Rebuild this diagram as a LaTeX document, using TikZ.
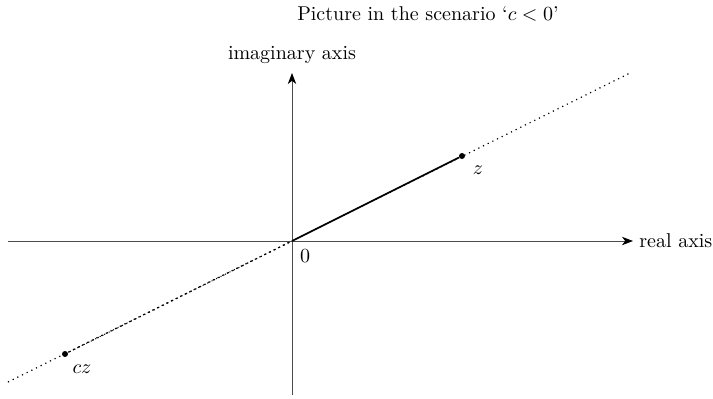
\documentclass[tikz,border=0pt]{standalone}
\usetikzlibrary{arrows.meta}
\begin{document}
\begin{tikzpicture}[x=0.5pt,y=-0.5pt,
  axis/.style={line width=0.45pt,black!70,-{Stealth[length=5.5pt,width=4.2pt,inset=1.6pt,black]}},
  pt/.style={circle,fill=black,inner sep=0pt,minimum size=3pt},
  lbl/.style={inner sep=1pt,font=\normalsize}]
\useasboundingbox (0,0) rectangle (713,398);
% coordinates
\coordinate (O) at (292,241);
\coordinate (xl) at (8,241);
\coordinate (xr) at (633,241);
\coordinate (yb) at (292,395);
\coordinate (yt) at (292,73);
\coordinate (lo) at (8,382);
\coordinate (hi) at (632,72);
\node[pt] (z) at (462,156) {};
\node[pt] (cz) at (65,354) {};
% axes
\draw[axis] (xl) -- (xr);
\draw[axis] (yb) -- (yt);
\node[lbl,anchor=west] (rl) at (637,241) {real axis};
\node[lbl] (il) at (292,55) {imaginary axis};
\node[lbl] (title) at (428,14) {Picture in the scenario `$c<0$'};
% line through z
\draw[dotted,line width=0.6pt] (lo) -- (hi);
\draw[dotted,line width=0.6pt,dash phase=1.2pt] (O) -- (cz);
\draw[dotted,line width=0.5pt,dash phase=0.6pt,shift={(0,1.5)}] (O) -- (cz);
\draw[line width=0.8pt] (O) -- (z);
\node[lbl] (zl) at (478,170) {$z$};
\node[lbl] (czl) at (82,369) {$cz$};
\node[lbl] (ol) at (305,256) {$0$};
\end{tikzpicture}
\end{document}
